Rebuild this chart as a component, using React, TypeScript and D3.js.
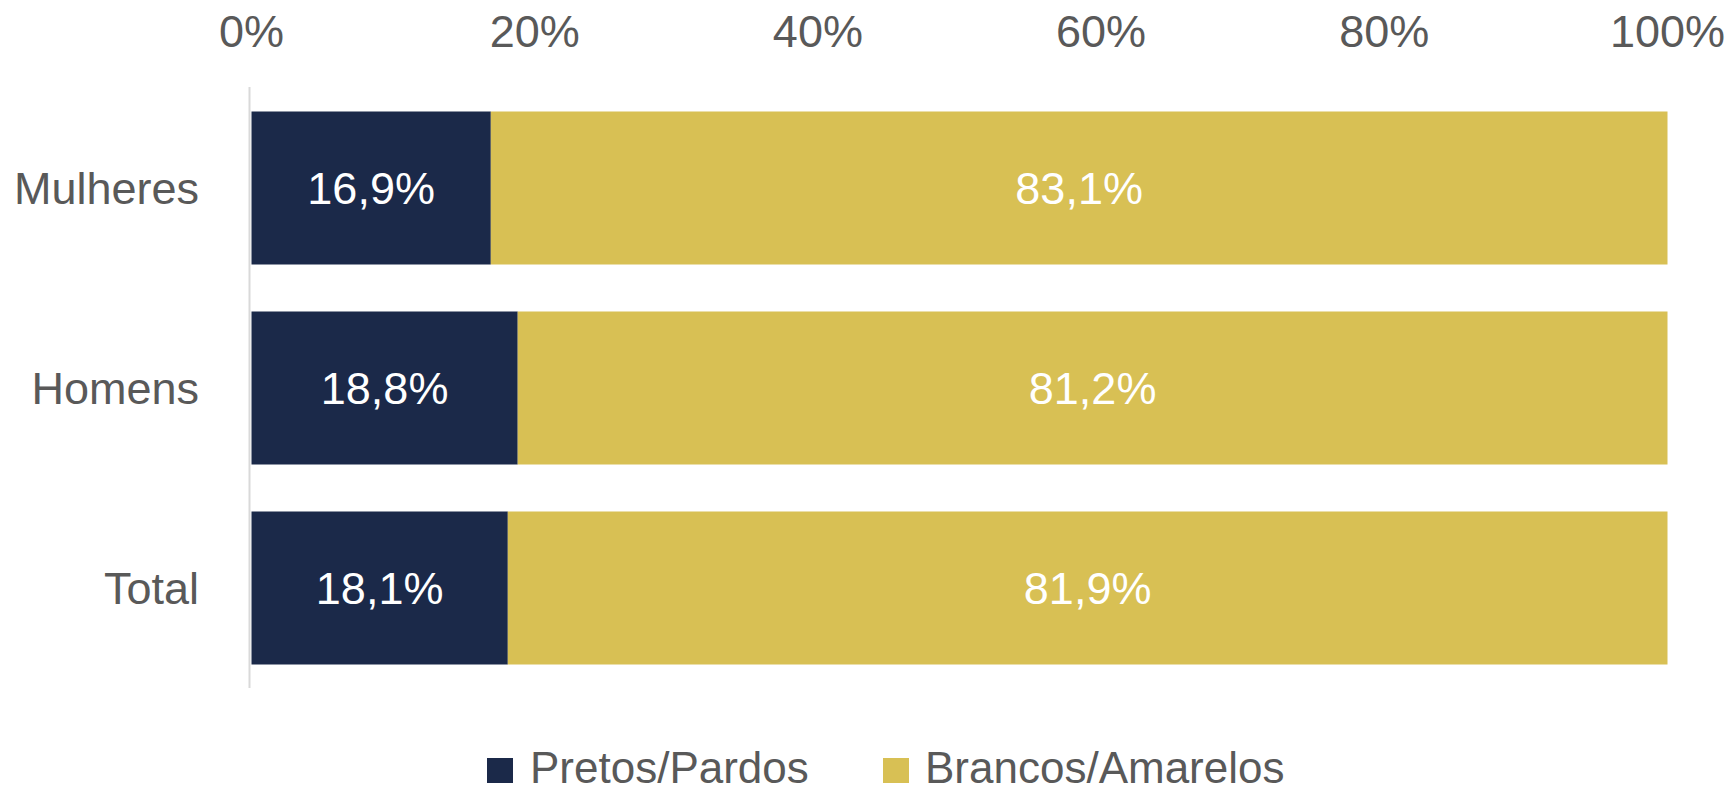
import React from "react";
import * as d3 from "d3";

const categories = ["Mulheres", "Homens", "Total"];
const pretosPardos = [16.9, 18.8, 18.1];
const brancosAmarelos = [83.1, 81.2, 81.9];
const seriesNames = ["Pretos/Pardos", "Brancos/Amarelos"];
const seriesColors = ["#1B2949", "#D8C054"];
const tickValues = [0, 20, 40, 60, 80, 100];

const W = 1735;
const H = 792;
const FONT = "'Liberation Sans', Arial, Helvetica, sans-serif";
const FS = 45;

export default function App() {
  const x = d3.scaleLinear().domain([0, 100]).range([251.5, 1667.5]);
  const y = d3
    .scaleBand<string>()
    .domain(categories)
    .range([88, 688])
    .paddingInner(0.235)
    .paddingOuter(0.1175);

  const rows = categories.map((c, i) => ({
    cat: c,
    segs: [
      { key: seriesNames[0], v0: 0, v1: pretosPardos[i], v: pretosPardos[i], color: seriesColors[0] },
      {
        key: seriesNames[1],
        v0: pretosPardos[i],
        v1: pretosPardos[i] + brancosAmarelos[i],
        v: brancosAmarelos[i],
        color: seriesColors[1],
      },
    ],
  }));

  const fmt = (v: number) => v.toFixed(1).replace(".", ",") + "%";
  const bw = y.bandwidth();

  const legendItems = [
    { name: seriesNames[0], color: seriesColors[0], sx: 487, tx: 530 },
    { name: seriesNames[1], color: seriesColors[1], sx: 883, tx: 925 },
  ];

  return (
    <svg
      width={W}
      height={H}
      style={{ position: "absolute", left: 0, top: 0, background: "#fff" }}
      fontFamily={FONT}
    >
      {/* axis line */}
      <line x1={x(0) - 2} x2={x(0) - 2} y1={87} y2={688} stroke="#D9D9D9" strokeWidth={2} />

      {/* top tick labels */}
      {tickValues.map((t) => (
        <text key={t} x={x(t)} y={47} textAnchor="middle" fontSize={FS} fill="#595959">
          {t}%
        </text>
      ))}

      {/* bars */}
      {rows.map((r) => (
        <g key={r.cat}>
          {r.segs.map((s) => (
            <rect
              key={s.key}
              x={x(s.v0)}
              y={y(r.cat)!}
              width={x(s.v1) - x(s.v0)}
              height={bw}
              fill={s.color}
            />
          ))}
          {r.segs.map((s) => (
            <text
              key={s.key + "l"}
              x={(x(s.v0) + x(s.v1)) / 2}
              y={y(r.cat)! + bw / 2 + 16}
              textAnchor="middle"
              fontSize={FS}
              fill="#FFFFFF"
            >
              {fmt(s.v)}
            </text>
          ))}
          <text
            x={199}
            y={y(r.cat)! + bw / 2 + 16}
            textAnchor="end"
            fontSize={FS}
            fill="#595959"
          >
            {r.cat}
          </text>
        </g>
      ))}

      {/* legend */}
      {legendItems.map((l) => (
        <g key={l.name}>
          <rect x={l.sx} y={758} width={26} height={25} fill={l.color} />
          <text x={l.tx} y={783} fontSize={44} fill="#595959">
            {l.name}
          </text>
        </g>
      ))}
    </svg>
  );
}
